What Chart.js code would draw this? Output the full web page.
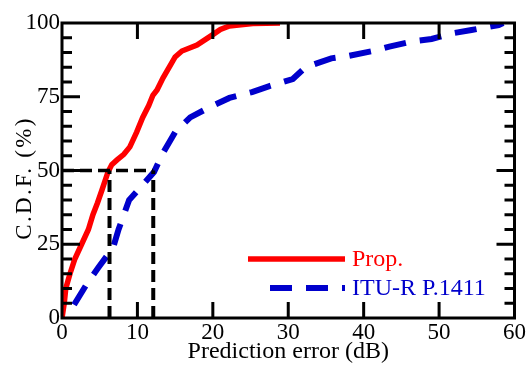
<!DOCTYPE html>
<html><head><meta charset="utf-8">
<script src="https://cdn.jsdelivr.net/npm/chart.js@4/dist/chart.umd.min.js"></script>
<style>html,body{margin:0;padding:0;background:#fff}#wrap{width:527px;height:365px}</style>
</head><body><div id="wrap"><canvas id="c" width="527" height="365"></canvas></div>
<script>
const propX = [0,0.3,0.5,1.06,1.7,2.6,3.5,4.1,4.7,5.3,6.1,6.6,7.3,8.2,9.0,9.9,10.7,11.5,12.05,12.6,13.4,14.3,15.0,15.9,17.9,19.9,21.0,22.2,25.3,28.9];
const propY = [0,5,10,15,20,25,30,35,39,43.4,49.5,52,53.6,55.5,58,63,68,72,75.5,77.3,81.4,85.4,88.5,90.5,92.5,95.9,97.8,99,99.8,100];
const ituX = [1.6,3.4,4.8,6.8,7.5,8.9,10.3,12.2,13.4,15.0,17.0,19.6,22.2,25.2,27.5,30.6,32.3,35.7,37.9,41.2,43.4,46.5,49.0,52.0,54.3,57.9,58.5];
const ituY = [4.5,12,17,24,30,40,44,49.5,56,63,68,71.5,74.6,76.6,78.6,81,85,88,88.8,90.5,92,93.8,94.6,96.6,97.6,99.3,100];
const guideX = [6.3, 12.1];
const guideY = 50;
const xTicks = [0,10,20,30,40,50,60];
const yTicks = [0,25,50,75,100];
const labels = ['Prop.','ITU-R P.1411'];
const xTitle = 'Prediction error (dB)';
const yTitle = 'C.D.F. (%)';

const pts = (xs, ys) => xs.map((x,i)=>({x, y: ys[i]}));
const FONT = "'Liberation Serif','Times New Roman',serif";

const framePlugin = {
  id: 'frame',
  afterDatasetsDraw(chart) {
    const {ctx, chartArea: a, scales: {x, y}} = chart;
    ctx.save();
    ctx.strokeStyle = '#000';
    ctx.lineWidth = 3;
    ctx.lineCap = 'butt';
    ctx.strokeRect(a.left, a.top, a.right - a.left, a.bottom - a.top);
    ctx.beginPath();
    xTicks.slice(1, -1).forEach(v => {
      const px = x.getPixelForValue(v);
      ctx.moveTo(px, a.bottom); ctx.lineTo(px, a.bottom - 16);
      ctx.moveTo(px, a.top); ctx.lineTo(px, a.top + 16);
    });
    for (let v = 5; v < 100; v += 5) {
      const py = y.getPixelForValue(v);
      const len = (v % 25 === 0) ? 18 : 10;
      ctx.moveTo(a.left, py); ctx.lineTo(a.left + len, py);
      ctx.moveTo(a.right, py); ctx.lineTo(a.right - len, py);
    }
    ctx.stroke();
    // legend
    const ds = chart.data.datasets;
    const rows = [{i:0, x0:248, x1:345, yv:259}, {i:1, x0:270, x1:345, yv:288}];
    ctx.font = '24px ' + FONT;
    ctx.textBaseline = 'middle';
    rows.forEach(r => {
      const d = ds[r.i];
      ctx.strokeStyle = d.borderColor;
      ctx.lineWidth = d.borderWidth;
      ctx.setLineDash(d.borderDash || []);
      ctx.beginPath(); ctx.moveTo(r.x0, r.yv); ctx.lineTo(r.x1, r.yv); ctx.stroke();
      ctx.setLineDash([]);
      ctx.fillStyle = d.borderColor;
      ctx.fillText(d.label, 352, r.yv + 1);
    });
    // y title
    ctx.translate(24, 178);
    ctx.rotate(-Math.PI / 2);
    ctx.font = '23px ' + FONT;
    ctx.letterSpacing = '2.3px';
    ctx.textAlign = 'center';
    ctx.fillStyle = '#000';
    ctx.fillText(yTitle, 0, 1);
    ctx.restore();
  }
};

new Chart(document.getElementById('c'), {
  type: 'scatter',
  data: {
    datasets: [
      {label: labels[0], data: pts(propX, propY), showLine: true, borderColor: '#ff0000', borderWidth: 5.5, pointRadius: 0, order: 2},
      {label: labels[1], data: pts(ituX, ituY), showLine: true, borderColor: '#0000cc', borderWidth: 6, borderDash: [22, 14], pointRadius: 0, order: 3},
      {label: 'g1', data: [{x:0,y:guideY},{x:guideX[1],y:guideY}], showLine: true, borderColor: '#000', borderWidth: 3.5, borderDash: [12, 6], pointRadius: 0, order: 1},
      {label: 'g2', data: [{x:guideX[0],y:0},{x:guideX[0],y:guideY}], showLine: true, borderColor: '#000', borderWidth: 4, borderDash: [12, 6], pointRadius: 0, order: 1},
      {label: 'g3', data: [{x:guideX[1],y:0},{x:guideX[1],y:guideY}], showLine: true, borderColor: '#000', borderWidth: 4, borderDash: [12, 6], pointRadius: 0, order: 1}
    ]
  },
  options: {
    responsive: false, animation: false,
    layout: {padding: {left: 0, top: 23, right: 12, bottom: 0}},
    plugins: {legend: {display: false}, tooltip: {enabled: false}},
    elements: {line: {tension: 0, borderCapStyle: 'butt'}},
    scales: {
      x: {
        type: 'linear', min: 0, max: 60,
        afterBuildTicks: s => { s.ticks = xTicks.map(v => ({value: v})); },
        afterFit: s => { s.height = 47; },
        grid: {display: false, drawTicks: false}, border: {display: false},
        ticks: {color: '#000', padding: 1, font: {family: FONT, size: 23}},
        title: {display: true, text: xTitle, color: '#000', padding: {top: -6, bottom: -1}, font: {family: FONT, size: 24}}
      },
      y: {
        type: 'linear', min: 0, max: 100,
        afterBuildTicks: s => { s.ticks = yTicks.map(v => ({value: v})); },
        afterFit: s => { s.width = 62; },
        grid: {display: false, drawTicks: false}, border: {display: false},
        ticks: {color: '#000', padding: 2, font: {family: FONT, size: 23}},
        title: {display: false}
      }
    }
  },
  plugins: [framePlugin]
});
</script></body></html>
